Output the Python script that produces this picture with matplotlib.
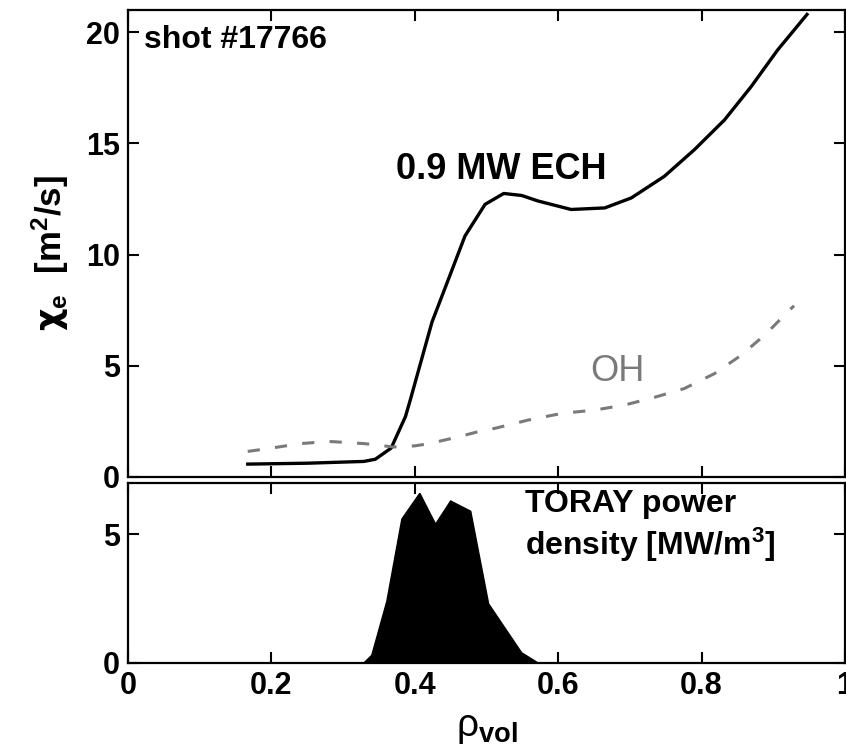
import matplotlib.pyplot as plt

# chi_e profile with 0.9 MW ECH (solid)
ech_rho = [0.167, 0.25, 0.329, 0.345, 0.367, 0.387, 0.394, 0.424, 0.447, 0.470,
           0.498, 0.524, 0.549, 0.572, 0.618, 0.665, 0.702, 0.748, 0.790, 0.832,
           0.869, 0.906, 0.947]
ech_chi = [0.58, 0.62, 0.70, 0.80, 1.30, 2.72, 3.50, 6.97, 8.90, 10.84,
           12.26, 12.75, 12.66, 12.41, 12.03, 12.10, 12.55, 13.52, 14.72, 16.06,
           17.55, 19.20, 20.80]

# chi_e profile, ohmic (dashed)
oh_rho = [0.167, 0.20, 0.24, 0.28, 0.33, 0.37, 0.40, 0.42, 0.46, 0.49, 0.512,
          0.558, 0.605, 0.651, 0.693, 0.734, 0.776, 0.818, 0.855, 0.890, 0.922, 0.929]
oh_chi = [1.15, 1.30, 1.50, 1.60, 1.50, 1.35, 1.40, 1.50, 1.80, 2.05, 2.19,
          2.56, 2.86, 3.01, 3.24, 3.58, 3.98, 4.65, 5.47, 6.44, 7.49, 7.70]

# TORAY power density
toray_rho = [0.0, 0.329, 0.34, 0.361, 0.382, 0.407, 0.429, 0.45, 0.478, 0.503, 0.549, 0.572, 1.0]
toray_p = [0.0, 0.0, 0.3, 2.4, 5.6, 6.6, 5.4, 6.3, 5.9, 2.3, 0.4, 0.0, 0.0]

plt.rcParams['font.family'] = 'Liberation Sans'
plt.rcParams['font.weight'] = 'bold'
plt.rcParams['mathtext.fontset'] = 'custom'
plt.rcParams['mathtext.rm'] = 'Liberation Sans'
plt.rcParams['mathtext.it'] = 'Liberation Sans:italic'
plt.rcParams['mathtext.bf'] = 'Liberation Sans:bold'
plt.rcParams['mathtext.sf'] = 'DejaVu Sans'

fig = plt.figure(figsize=(8.46, 7.51), dpi=100)
W, H = 846, 751
left, right = 128 / W, 845 / W
ax1 = fig.add_axes([left, 1 - 477 / H, right - left, (477 - 10) / H])
ax2 = fig.add_axes([left, 1 - 663 / H, right - left, (663 - 483) / H])

ax1.plot(ech_rho, ech_chi, color='black', lw=2.4, solid_joinstyle='round')
ax1.plot(oh_rho, oh_chi, color='#7a7a7a', lw=2.2, dashes=(4, 5))
ax1.set_xlim(0, 1)
ax1.set_ylim(0, 21)
ax1.set_yticks([0, 5, 10, 15, 20])
ax1.set_xticks([0, 0.2, 0.4, 0.6, 0.8, 1])
ax1.tick_params(labelbottom=False)
ax1.set_ylabel(r'$\mathsf{χ}_\mathbf{e}\ \ \mathbf{[m^2/s]}$', fontsize=25)
ax1.yaxis.set_label_coords(-0.08, 0.48)
ax1.text(0.022, 0.935, 'shot #17766', transform=ax1.transAxes, fontsize=23,
         fontweight='bold', va='center')
ax1.text(0.374, 13.85, '0.9 MW ECH', fontsize=26, fontweight='bold', va='center')
ax1.text(0.682, 4.75, 'OH', fontsize=26, fontweight='normal', color='#7a7a7a',
         va='center', ha='center')

ax2.fill(toray_rho, toray_p, color='black', lw=1)
ax2.set_xlim(0, 1)
ax2.set_ylim(0, 7)
ax2.set_yticks([0, 5])
ax2.set_xticks([0, 0.2, 0.4, 0.6, 0.8, 1])
ax2.set_xticklabels(['0', '0.2', '0.4', '0.6', '0.8', '1'])
ax2.text(0.553, 6.75, 'TORAY power\ndensity [MW/m$^\\mathbf{3}$]', fontsize=23,
         fontweight='bold', va='top', linespacing=1.2)
ax2.set_xlabel(r'ρ$_\mathbf{vol}$', fontsize=28, fontweight='normal', labelpad=6)

for ax in (ax1, ax2):
    ax.tick_params(direction='in', length=8, width=1.5, top=True, right=True,
                   labelsize=22, pad=6)
    for s in ax.spines.values():
        s.set_linewidth(1.6)

fig.savefig('out.png', dpi=100)
